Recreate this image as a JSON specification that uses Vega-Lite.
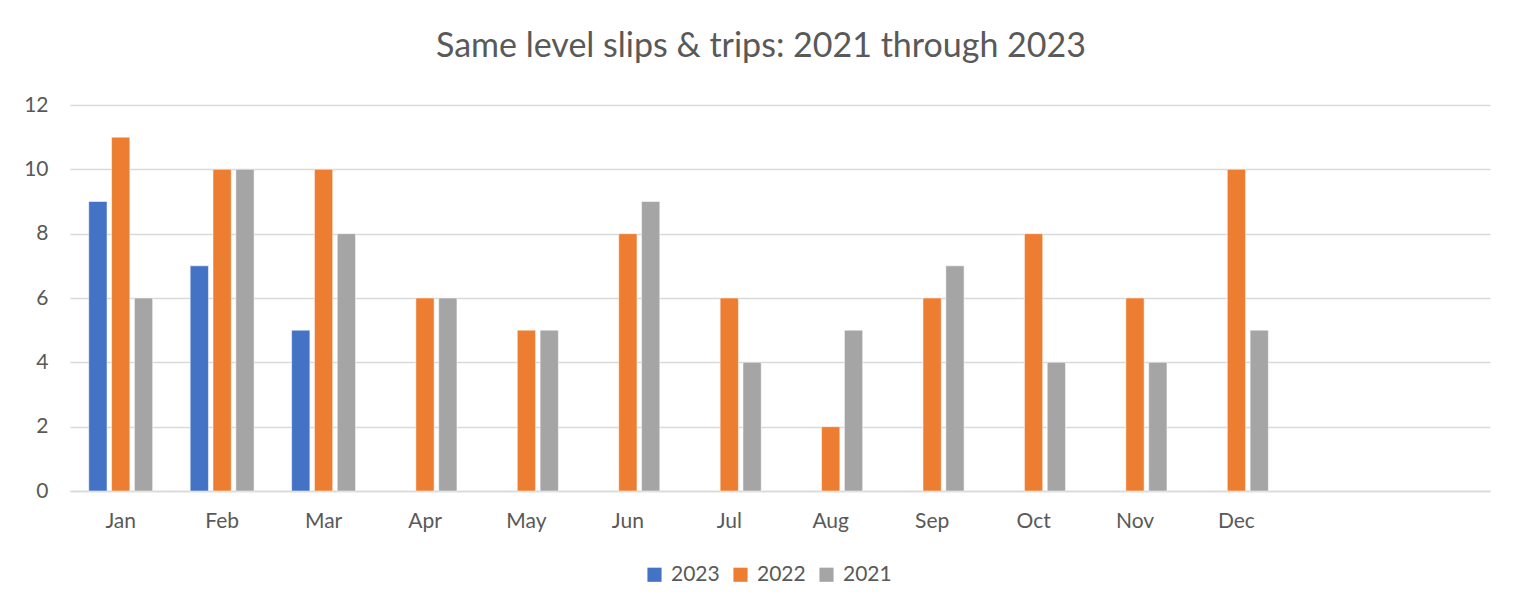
{
  "$schema": "https://vega.github.io/schema/vega-lite/v6.json",
  "autosize": "none",
  "width": 1420,
  "height": 386,
  "padding": {"left": 70, "top": 105, "right": 24, "bottom": 120},
  "background": "white",
  "title": {
    "text": "Same level slips & trips: 2021 through 2023",
    "font": "Lato",
    "fontSize": 34,
    "fontWeight": "normal",
    "color": "#595959",
    "anchor": "middle",
    "dx": -19,
    "offset": 30
  },
  "data": {
    "values": [
      {"month": "Jan", "year": "2023", "count": 9},
      {"month": "Jan", "year": "2022", "count": 11},
      {"month": "Jan", "year": "2021", "count": 6},
      {"month": "Feb", "year": "2023", "count": 7},
      {"month": "Feb", "year": "2022", "count": 10},
      {"month": "Feb", "year": "2021", "count": 10},
      {"month": "Mar", "year": "2023", "count": 5},
      {"month": "Mar", "year": "2022", "count": 10},
      {"month": "Mar", "year": "2021", "count": 8},
      {"month": "Apr", "year": "2022", "count": 6},
      {"month": "Apr", "year": "2021", "count": 6},
      {"month": "May", "year": "2022", "count": 5},
      {"month": "May", "year": "2021", "count": 5},
      {"month": "Jun", "year": "2022", "count": 8},
      {"month": "Jun", "year": "2021", "count": 9},
      {"month": "Jul", "year": "2022", "count": 6},
      {"month": "Jul", "year": "2021", "count": 4},
      {"month": "Aug", "year": "2022", "count": 2},
      {"month": "Aug", "year": "2021", "count": 5},
      {"month": "Sep", "year": "2022", "count": 6},
      {"month": "Sep", "year": "2021", "count": 7},
      {"month": "Oct", "year": "2022", "count": 8},
      {"month": "Oct", "year": "2021", "count": 4},
      {"month": "Nov", "year": "2022", "count": 6},
      {"month": "Nov", "year": "2021", "count": 4},
      {"month": "Dec", "year": "2022", "count": 10},
      {"month": "Dec", "year": "2021", "count": 5}
    ]
  },
  "mark": {"type": "bar", "stroke": "white", "strokeOpacity": 0.5, "strokeWidth": 1},
  "encoding": {
    "x": {
      "field": "month",
      "type": "nominal",
      "scale": {
        "domain": ["Jan", "Feb", "Mar", "Apr", "May", "Jun", "Jul", "Aug", "Sep", "Oct", "Nov", "Dec", "_13", "_14"],
        "paddingInner": 0.37,
        "paddingOuter": 0.185
      },
      "axis": {
        "title": null,
        "labelAngle": 0,
        "labelExpr": "indexof(datum.label, '_') == 0 ? '' : datum.label",
        "labelFont": "Lato",
        "labelFontSize": 21,
        "labelColor": "#595959",
        "labelPadding": 19,
        "ticks": false,
        "domainColor": "#D9D9D9",
        "domainWidth": 1.5,
        "grid": false
      }
    },
    "xOffset": {
      "field": "year",
      "type": "nominal",
      "sort": ["2023", "2022", "2021"],
      "scale": {"domain": ["2023", "2022", "2021"], "paddingInner": 0.2}
    },
    "y": {
      "field": "count",
      "type": "quantitative",
      "scale": {"domain": [0, 12]},
      "axis": {
        "title": null,
        "values": [0, 2, 4, 6, 8, 10, 12],
        "labelFont": "Lato",
        "labelFontSize": 21,
        "labelColor": "#595959",
        "labelPadding": 22,
        "ticks": false,
        "domain": false,
        "gridColor": "#D9D9D9",
        "gridWidth": 1.5
      }
    },
    "color": {
      "field": "year",
      "type": "nominal",
      "sort": ["2023", "2022", "2021"],
      "scale": {"domain": ["2023", "2022", "2021"], "range": ["#4472C4", "#ED7D31", "#A5A5A5"]},
      "legend": {
        "title": null,
        "orient": "none",
        "legendX": 574,
        "legendY": 459,
        "direction": "horizontal",
        "symbolType": "square",
        "symbolSize": 200,
        "symbolStrokeWidth": 0,
        "labelFont": "Lato",
        "labelFontSize": 21,
        "labelColor": "#595959",
        "columnPadding": 10,
        "labelOffset": 6
      }
    }
  },
  "config": {"view": {"stroke": null}}
}
